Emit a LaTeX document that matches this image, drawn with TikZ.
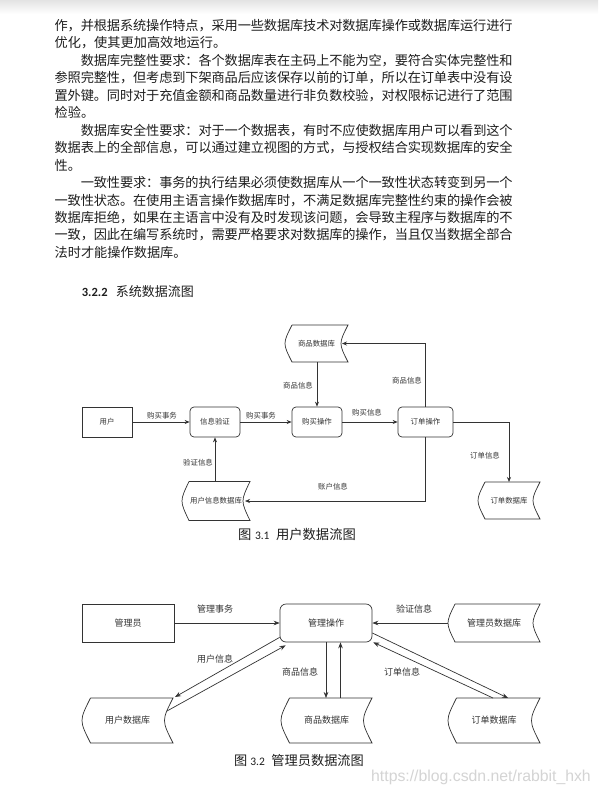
\documentclass[tikz,border=0pt]{standalone}
\usepackage{fontspec}
\newfontfamily\cjk{Noto Sans CJK SC}
\newfontfamily\calfont{Carlito}
\newfontfamily\wmfont{Liberation Sans}
\usetikzlibrary{arrows.meta,calc}
\definecolor{txt}{HTML}{1E1E1E}
\definecolor{ln}{HTML}{333333}
\definecolor{wmc}{HTML}{D4D4D4}
\def\jloop#1{\ifx\relax#1\else#1\hskip0pt plus 1fil minus 0.6pt\relax\expandafter\jloop\fi}
\newcommand\jline[2]{\hbox to #1{\jloop#2\relax\unskip}}
\newcommand\storeline[3]{%
  \draw[draw=ln, line width=0.7pt] ($(#1.north west)+(#2,0)$) -- (#1.north east)
    .. controls ($(#1.east)+(-#3,0)$) .. (#1.south east)
    -- ($(#1.south west)+(#2,0)$)
    .. controls ($(#1.west)+(#2-#3,0)$) .. ($(#1.north west)+(#2,0)$);}
\tikzset{
  body/.style={inner sep=0, anchor=base west, text=txt, font=\cjk\fontsize{13.2}{16}\selectfont},
  d1/.style={font=\cjk\fontsize{7.4}{9}\selectfont, text=ln, inner sep=0},
  d2/.style={font=\cjk\fontsize{9}{11}\selectfont, text=ln, inner sep=0},
  boxa/.style={draw=ln, line width=0.7pt, inner sep=0, minimum width=50pt, minimum height=30pt},
  rboxa/.style={boxa, rounded corners=4pt},
  boxb/.style={draw=ln, line width=0.7pt, inner sep=0, minimum width=92pt, minimum height=38pt},
  rboxb/.style={boxb, rounded corners=6pt},
  store/.style={inner sep=0, outer sep=0},
  arr/.style={draw=ln, line width=0.7pt, -{Stealth[length=5pt,width=4pt]}},
  arrb/.style={draw=ln, line width=0.7pt, -{Stealth[length=6pt,width=4.6pt]}},
}
\begin{document}
\begin{tikzpicture}[x=1pt,y=-1pt]
\fill[white] (0,0) rectangle (598,792);
\useasboundingbox (0,0) rectangle (598,792);
\shade[top color=black!11, bottom color=white] (0,0) rectangle (598,14);

% body text
\node[body] (t1) at (54.4,30.5) {\jline{458pt}{作，并根据系统操作特点，采用一些数据库技术对数据库操作或数据库运行进行}};
\node[body] (t2) at (54.4,47.95) {优化，使其更加高效地运行。};
\node[body] (t3) at (80.6,65.4) {\jline{431.8pt}{数据库完整性要求：各个数据库表在主码上不能为空，要符合实体完整性和}};
\node[body] (t4) at (54.4,82.85) {\jline{458pt}{参照完整性，但考虑到下架商品后应该保存以前的订单，所以在订单表中没有设}};
\node[body] (t5) at (54.4,100.3) {\jline{458pt}{置外键。同时对于充值金额和商品数量进行非负数校验，对权限标记进行了范围}};
\node[body] (t6) at (54.4,117.75) {检验。};
\node[body] (t7) at (80.6,135.2) {\jline{431.8pt}{数据库安全性要求：对于一个数据表，有时不应使数据库用户可以看到这个}};
\node[body] (t8) at (54.4,152.65) {\jline{458pt}{数据表上的全部信息，可以通过建立视图的方式，与授权结合实现数据库的安全}};
\node[body] (t9) at (54.4,170.1) {性。};
\node[body] (t10) at (80.6,187.55) {\jline{431.8pt}{一致性要求：事务的执行结果必须使数据库从一个一致性状态转变到另一个}};
\node[body] (t11) at (54.4,205.0) {\jline{458pt}{一致性状态。在使用主语言操作数据库时，不满足数据库完整性约束的操作会被}};
\node[body] (t12) at (54.4,222.45) {\jline{458pt}{数据库拒绝，如果在主语言中没有及时发现该问题，会导致主程序与数据库的不}};
\node[body] (t13) at (54.4,239.9) {\jline{458pt}{一致，因此在编写系统时，需要严格要求对数据库的操作，当且仅当数据全部合}};
\node[body] (t14) at (54.4,257.35) {法时才能操作数据库。};

% heading
\node[inner sep=0, anchor=base west, text=txt] (head) at (81.7,296) {{\calfont\bfseries\fontsize{12.5}{15}\selectfont 3.2.2}\hspace{8.3pt}{\cjk\fontsize{13}{15}\selectfont 系统数据流图}};

% ---------- diagram 1 ----------
\node[boxa, d1] (yh) at (107,422) {用户};
\node[rboxa, d1] (xx) at (215,422) {信息验证};
\node[rboxa, d1] (gm) at (317,422) {购买操作};
\node[rboxa, d1, minimum width=55pt] (dd) at (425.5,422) {订单操作};
\node[store, d1, minimum width=63pt, minimum height=37pt] (spdb) at (316.5,343.5) {商品数据库};
\node[store, d1, minimum width=68pt, minimum height=39pt] (uidb) at (216,501) {用户信息数据库};
\node[store, d1, minimum width=62pt, minimum height=37pt] (oddb) at (509,500.5) {订单数据库};
\storeline{spdb}{7}{9.33}
\storeline{uidb}{7}{9.33}
\storeline{oddb}{7}{9.33}

\draw[arr] (yh.east) -- (xx.west);
\draw[arr] (xx.east) -- (gm.west);
\draw[arr] (gm.east) -- (dd.west);
\draw[arr] (spdb.south -| gm.north) -- (gm.north);
\draw[arr] (dd.north) |- ($(spdb.east)+(-6,0)$);
\draw[arr] (dd.east) -| (oddb.north);
\draw[arr] (dd.south) |- ($(uidb.east)+(-5,0)$);
\draw[arr] (uidb.north -| xx.south) -- (xx.south);

\node[d1] (l1) at (162,416) {购买事务};
\node[d1] (l2) at (261,416) {购买事务};
\node[d1] (l3) at (298,386) {商品信息};
\node[d1] (l4) at (367,412.5) {购买信息};
\node[d1] (l5) at (407,381) {商品信息};
\node[d1] (l6) at (485,456) {订单信息};
\node[d1] (l7) at (333,487) {账户信息};
\node[d1] (l8) at (198,463) {验证信息};

\node[inner sep=0, anchor=base west, text=txt] (cap1) at (238,539.5) {{\cjk\fontsize{13.3}{15}\selectfont 图}\hspace{3.5pt}{\calfont\fontsize{11.5}{15}\selectfont 3.1}\hspace{6.5pt}{\cjk\fontsize{13.3}{15}\selectfont 用户数据流图}};

% ---------- diagram 2 ----------
\node[boxb, d2] (gly) at (128,623) {管理员};
\node[rboxb, d2] (glcz) at (326,623) {管理操作};
\node[store, d2, minimum width=92pt, minimum height=38pt] (glydb) at (494,623) {管理员数据库};
\node[store, d2, minimum width=91pt, minimum height=45pt] (yhdb) at (127.5,720.5) {用户数据库};
\node[store, d2, minimum width=91pt, minimum height=45pt] (spdb2) at (326.5,720.5) {商品数据库};
\node[store, d2, minimum width=92pt, minimum height=45pt] (dddb2) at (494,720.5) {订单数据库};
\storeline{glydb}{7}{9.33}
\storeline{yhdb}{8.5}{11.33}
\storeline{spdb2}{8.5}{11.33}
\storeline{dddb2}{8.5}{11.33}

\draw[arrb] (gly.east) -- (glcz.west);
\draw[arrb] (glydb.west) -- (glcz.east);
\draw[arrb] ($(glcz.south west)+(0,-5)$) -- ($(yhdb.north east)+(2,-1)$);
\draw[arrb] ($(yhdb.east)+(-6,-9.5)$) -- ($(glcz.south west)+(6,3)$);
\draw[arrb] (glcz.south) -- (glcz.south |- spdb2.north);
\coordinate (up1) at ($(spdb2.north)+(14,0)$);
\draw[arrb] (up1) -- (up1 |- glcz.south);
\draw[arrb] ($(glcz.east)+(0,10)$) -- ($(dddb2.north)+(14,0)$);
\draw[arrb] ($(dddb2.north)+(-1,0)$) -- ($(glcz.south east)+(1,0)$);

\node[d2] (m1) at (215,609) {管理事务};
\node[d2] (m2) at (414,609) {验证信息};
\node[d2] (m3) at (215,659) {用户信息};
\node[d2] (m4) at (300,672) {商品信息};
\node[d2] (m5) at (402,672) {订单信息};

\node[inner sep=0, anchor=base west, text=txt] (cap2) at (234,765) {{\cjk\fontsize{13.2}{15}\selectfont 图}\hspace{3pt}{\calfont\fontsize{11.5}{15}\selectfont 3.2}\hspace{6.5pt}{\cjk\fontsize{13.2}{15}\selectfont 管理员数据流图}};

% watermark
\node[inner sep=0, anchor=base west, text=wmc, font=\wmfont\fontsize{15.8}{18}\selectfont] (wm) at (371,781) {https://blog.csdn.net/rabbit\_hxh};
\end{tikzpicture}
\end{document}
